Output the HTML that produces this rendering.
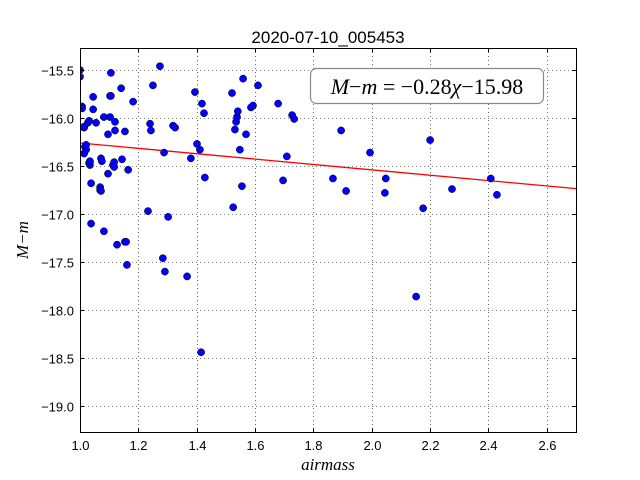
<!DOCTYPE html>
<html><head><meta charset="utf-8"><style>
html,body{margin:0;padding:0;background:#fff;}
svg{display:block;font-family:"Liberation Sans",sans-serif;}
</style></head><body>
<svg id="chart" width="640" height="480">
<rect width="640" height="480" fill="#fff"/>
<g id="grid"></g><g id="fit"></g><g id="pts"></g><g id="axes"></g>
<text x="328" y="43" text-anchor="middle" font-size="17">2020-07-10_005453</text>
<text x="328" y="470" text-anchor="middle" font-size="17" font-style="italic" font-family="Liberation Serif,serif">airmass</text>
<text transform="translate(28,240) rotate(-90)" text-anchor="middle" font-size="17" font-style="italic" font-family="Liberation Serif,serif">M−m</text>
<g>
<rect x="310.5" y="68.5" width="233" height="35" rx="6" fill="#fff" stroke="#888" stroke-width="1.2"/>
<text x="427" y="94" text-anchor="middle" font-size="22" font-family="Liberation Serif,serif"><tspan font-style="italic">M</tspan>−<tspan font-style="italic">m</tspan> = −0.28<tspan font-style="italic">χ</tspan>−15.98</text>
</g>
</svg>
<script>
const xTicks=[1.0,1.2,1.4,1.6,1.8,2.0,2.2,2.4,2.6];
const yTicks=[-15.5,-16.0,-16.5,-17.0,-17.5,-18.0,-18.5,-19.0];
const slope=-0.28, intercept=-15.98;
const airmass=[1.000,1.000,1.007,1.007,1.014,1.014,1.017,1.014,1.021,1.021,1.027,1.031,1.031,1.034,1.034,1.034,1.038,1.038,1.045,1.045,1.055,1.069,1.069,1.072,1.072,1.075,1.082,1.082,1.096,1.096,1.103,1.103,1.106,1.106,1.113,1.117,1.117,1.120,1.120,1.127,1.141,1.144,1.154,1.154,1.158,1.161,1.165,1.182,1.233,1.240,1.243,1.250,1.274,1.284,1.288,1.291,1.302,1.319,1.326,1.367,1.380,1.394,1.401,1.411,1.418,1.425,1.415,1.428,1.521,1.525,1.531,1.535,1.538,1.541,1.548,1.555,1.569,1.586,1.593,1.610,1.679,1.696,1.709,1.727,1.734,1.867,1.895,1.912,1.994,2.048,2.045,2.152,2.176,2.200,2.275,2.408,2.429,1.559];
const mag=[-15.50,-15.57,-15.88,-15.90,-16.10,-16.09,-16.30,-16.37,-16.33,-16.28,-16.05,-16.03,-16.47,-16.46,-16.49,-16.45,-16.68,-17.10,-15.91,-15.78,-16.05,-16.72,-16.75,-16.76,-16.42,-16.45,-17.18,-15.99,-16.58,-16.17,-15.77,-15.99,-15.53,-15.77,-16.49,-16.46,-16.51,-16.04,-16.13,-17.32,-15.69,-16.43,-16.14,-17.29,-17.29,-17.53,-16.54,-15.83,-16.97,-16.06,-16.13,-15.66,-15.46,-17.46,-16.36,-17.60,-17.03,-16.08,-16.10,-17.65,-16.42,-15.73,-16.27,-16.33,-15.85,-15.95,-18.44,-16.62,-15.74,-16.93,-16.12,-16.04,-15.99,-15.93,-16.33,-16.71,-16.17,-15.89,-15.87,-15.66,-15.85,-16.65,-16.40,-15.97,-16.01,-16.63,-16.13,-16.76,-16.36,-16.63,-16.78,-17.86,-16.94,-16.23,-16.74,-16.63,-16.80,-15.59];
const X0=80,X1=576,Y0=48,Y1=432,xmin=1.0,xmax=2.7,ymax=-15.2708,ymin=-19.2708;
const sx=v=>X0+(v-xmin)/(xmax-xmin)*(X1-X0);
const sy=v=>Y0+(ymax-v)/(ymax-ymin)*(Y1-Y0);
const NS="http://www.w3.org/2000/svg";
function mk(tag,attrs,parent){const e=document.createElementNS(NS,tag);for(const k in attrs)e.setAttribute(k,attrs[k]);parent.appendChild(e);return e;}
const grid=document.getElementById('grid'),axes=document.getElementById('axes'),pts=document.getElementById('pts'),fit=document.getElementById('fit');
xTicks.forEach(t=>{const x=Math.round(sx(t))+0.5;
 const g=mk('line',{x1:x,x2:x,y1:Y0,y2:Y1,stroke:'#000','stroke-width':0.6,'stroke-dasharray':'1,3'},grid);
 
 
 const tk=mk('line',{x1:x,x2:x,y1:Y1,y2:Y1-4,stroke:'#000'},axes);
 
 
 const tk2=mk('line',{x1:x,x2:x,y1:Y0,y2:Y0+4,stroke:'#000'},axes);
 
 
 const l=mk('text',{x:x,y:Y1+18,'text-anchor':'middle','font-size':13},axes);l.textContent=t.toFixed(1);
 
 
});
yTicks.forEach(t=>{const y=Math.round(sy(t))+0.5;
 const g=mk('line',{x1:X0,x2:X1,y1:y,y2:y,stroke:'#000','stroke-width':0.6,'stroke-dasharray':'1,3'},grid);
 
 
 const tk=mk('line',{x1:X0,x2:X0+4,y1:y,y2:y,stroke:'#000'},axes);
 
 
 const tk2=mk('line',{x1:X1,x2:X1-4,y1:y,y2:y,stroke:'#000'},axes);
 
 
 const l=mk('text',{x:X0-6,y:y+5,'text-anchor':'end','font-size':13},axes);l.textContent=t.toFixed(1).replace('-','−');
 
 
});
const fr=mk('rect',{x:X0+0.5,y:Y0+0.5,width:X1-X0,height:Y1-Y0,fill:'none',stroke:'#000','stroke-width':1},axes);


const ln=mk('line',{x1:sx(xmin),y1:sy(slope*xmin+intercept),x2:sx(xmax),y2:sy(slope*xmax+intercept),stroke:'#ff0000','stroke-width':1.3},fit);


const cp=mk('clipPath',{id:'cp'},document.getElementById('chart'));
mk('rect',{x:X0,y:Y0,width:X1-X0,height:Y1-Y0},cp);
pts.setAttribute('clip-path','url(#cp)');
airmass.forEach((a,i)=>{
 const c=mk('circle',{cx:sx(a),cy:sy(mag[i]),r:3.6,fill:'#0000ff',stroke:'#000','stroke-width':0.5},pts);
 
 
});
</script>
</body></html>
